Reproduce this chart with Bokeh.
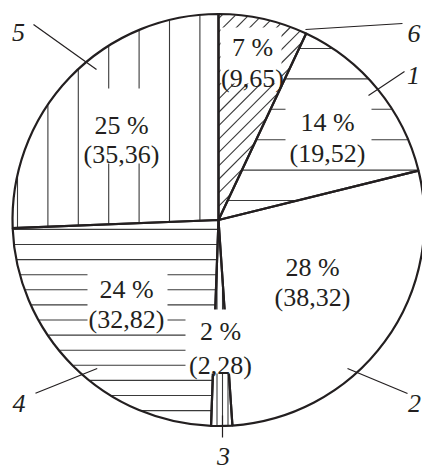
import numpy as np
from bokeh.plotting import figure
from bokeh.models import Range1d, ColumnDataSource
from bokeh.core.properties import value
from bokeh.embed import file_html
from bokeh.resources import INLINE

# ---------------- data ----------------
slice_ids = ["6", "1", "2", "3", "4", "5"]
slice_values = [9.65, 19.52, 38.32, 2.28, 32.82, 35.36]
pct_labels = ["7 %", "14 %", "28 %", "2 %", "24 %", "25 %"]
value_labels = ["(9,65)", "(19,52)", "(38,32)", "(2,28)", "(32,82)", "(35,36)"]

# ---------------- layout (picture pixel coords, y downwards) ----------------
W, H, OFF = 422, 470, 0
CX, CY, R = 218.0, 219.5, 206.0
INK = "#231f20"
FONT = "Liberation Serif"

# hatch style per slice: (kind, step, offset)
hatch_style = [("d", 13.4, 330.0), ("h", 30.4, 48.0), (None, 0, 0),
               ("v", 5.5, 216.5), ("h", 15.1, 244.0), ("v", 30.4, 17.0)]
# label centre x and baselines of the two text lines
label_x = [252, 327, 312, 220, 126, 121]
label_b1 = [47, 122, 267, 331, 289, 125]
label_b2 = [78, 153, 297, 365, 319, 154]
# white boxes behind labels (x0, x1, y0, y1)
label_box = [(220, 281, 27, 83), (285, 371, 95, 160), (272, 352, 246, 304),
             (185, 256, 309, 373), (87, 167, 266, 326), (80, 167, 88, 163)]
# leader lines and slice numbers
leader = [(305, 29, 402, 23), (368, 95, 404, 71), (347, 368, 407, 393),
          (222, 415, 222, 437), (96.7, 368, 35, 392.7), (33, 24, 96, 69)]
num_xy = [(413.5, 33), (413, 75), (414, 403), (223, 456), (18.5, 403), (18, 32)]

def Y(v):
    return -np.asarray(v, dtype=float)

p = figure(width=W, height=H, output_backend="svg", toolbar_location=None,
           x_range=Range1d(OFF, OFF + W), y_range=Range1d(-(OFF + H), -OFF),
           x_axis_type=None, y_axis_type=None, min_border=0,
           outline_line_color=None, background_fill_color="white",
           border_fill_color="white")
p.grid.visible = False

vals = np.array(slice_values, dtype=float)
cum = np.concatenate([[0.0], np.cumsum(vals)]) / vals.sum()
a0 = cum[:-1] * 2 * np.pi
a1 = cum[1:] * 2 * np.pi

wsrc = ColumnDataSource(dict(start=np.pi / 2 - a0, end=np.pi / 2 - a1))
p.wedge(x=CX, y=-CY, radius=R, start_angle="start", end_angle="end",
        direction="clock", fill_color="white", line_color=None, source=wsrc)

# hatch lines clipped to each slice
hx0, hy0, hx1, hy1 = [], [], [], []
t = np.arange(-50, 520, 0.2)
for i, (kind, step, off) in enumerate(hatch_style):
    if kind is None:
        continue
    for k in range(-80, 80):
        c = off + step * k
        if kind == "h":
            px, py = t, np.full_like(t, c)
        elif kind == "v":
            px, py = np.full_like(t, c), t
        else:
            px, py = t, c - t
        dx, dy = px - CX, py - CY
        r = np.hypot(dx, dy)
        th = np.mod(np.arctan2(dx, -dy), 2 * np.pi)
        m = (r <= R - 0.5) & (th >= a0[i]) & (th <= a1[i])
        if m.sum() < 3:
            continue
        idx = np.where(m)[0]
        hx0.append(px[idx[0]]); hy0.append(py[idx[0]])
        hx1.append(px[idx[-1]]); hy1.append(py[idx[-1]])
p.segment(x0=hx0, y0=Y(hy0), x1=hx1, y1=Y(hy1), line_color="#3a3a3a",
          line_width=1.1)

# outlines
p.wedge(x=CX, y=-CY, radius=R, start_angle="start", end_angle="end",
        direction="clock", fill_color=None, line_color=INK, line_width=2.2,
        source=wsrc)

# label boxes
bx = [(b[0] + b[1]) / 2 for b in label_box]
by = [(b[2] + b[3]) / 2 for b in label_box]
bw = [b[1] - b[0] for b in label_box]
bh = [b[3] - b[2] for b in label_box]
p.rect(x=bx, y=Y(by), width=bw, height=bh, fill_color="white", line_color=None)

p.text(x=label_x, y=Y(label_b1), text=pct_labels, text_font=value(FONT),
       text_font_size="26px", text_align="center", text_baseline="alphabetic",
       text_color=INK)
p.text(x=label_x, y=Y(label_b2), text=value_labels, text_font=value(FONT),
       text_font_size="26px", text_align="center", text_baseline="alphabetic",
       text_color=INK)

# leaders and slice numbers
p.segment(x0=[l[0] for l in leader], y0=Y([l[1] for l in leader]),
          x1=[l[2] for l in leader], y1=Y([l[3] for l in leader]),
          line_color=INK, line_width=1.2)
p.text(x=[n[0] for n in num_xy], y=Y([n[1] for n in num_xy]), text=slice_ids,
       text_font=value(FONT), text_font_size="26px", text_font_style="italic",
       text_align="center", text_baseline="alphabetic", text_color=INK)

open("out.html", "w").write(file_html(p, INLINE))
